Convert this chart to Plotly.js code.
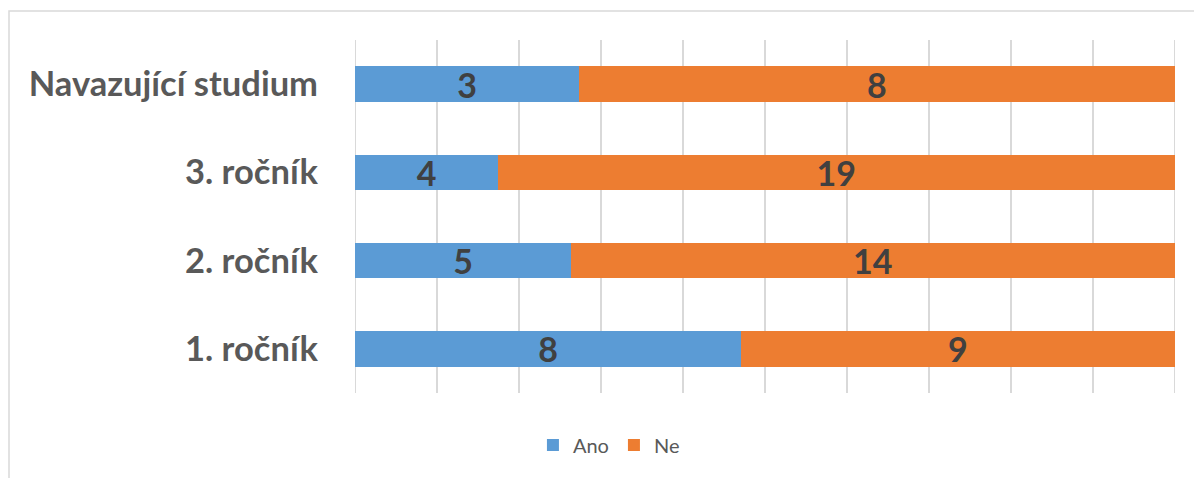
<!DOCTYPE html>
<html>
<head>
<meta charset="utf-8">
<script src="https://cdn.plot.ly/plotly-3.0.1.min.js"></script>
<style>html,body{margin:0;padding:0;background:#fff;}#chart{width:1194px;height:478px;}</style>
</head>
<body>
<div id="chart"></div>
<script>
const categories = ["1. ročník", "2. ročník", "3. ročník", "Navazující studium"];
const ano = [8, 5, 4, 3];
const ne = [9, 14, 19, 8];
const seriesNames = ["Ano", "Ne"];
const colors = ["#5B9BD5", "#ED7D31"];

const W = 1194, H = 478;
const L = 352, R = 16, T = 40, B = 85;
const pw = W - L - R, ph = H - T - B;

const labelFont = {family: "Lato, 'Open Sans', sans-serif", size: 34, color: "#404040", weight: 700};

const traces = [ano, ne].map((vals, i) => ({
  type: "bar",
  orientation: "h",
  name: seriesNames[i],
  y: categories,
  x: vals,
  text: vals.map(String),
  textposition: "inside",
  insidetextanchor: "middle",
  textangle: 0,
  constraintext: "none",
  textfont: labelFont,
  marker: {color: colors[i], line: {width: 0}},
  hoverinfo: "none"
}));

const layout = {
  width: W, height: H,
  margin: {l: L, r: R, t: T, b: B},
  paper_bgcolor: "#fff",
  plot_bgcolor: "#fff",
  barmode: "stack",
  barnorm: "percent",
  bargap: 0.6,
  xaxis: {
    range: [-0.4, 100.4], tick0: 0, dtick: 10, showticklabels: false,
    showgrid: true, gridcolor: "#d9d9d9", gridwidth: 1.5,
    zeroline: false, showline: false, ticks: "", fixedrange: true
  },
  yaxis: {
    showgrid: false, zeroline: false, showline: false, ticks: "",
    ticklabelstandoff: 33,
    tickfont: {family: "Lato, 'Open Sans', sans-serif", size: 34.5, color: "#595959", weight: 700},
    fixedrange: true
  },
  showlegend: true,
  legend: {
    orientation: "h", xref: "container", yref: "container",
    x: 0.51, xanchor: "center", y: 1 - 445/H, yanchor: "middle",
    font: {family: "Lato, 'Open Sans', sans-serif", size: 20, color: "#595959"},
    itemwidth: 30, traceorder: "normal"
  },
  shapes: [{
    type: "rect", xref: "paper", yref: "paper",
    x0: (9 - L)/pw, x1: (1200 - L)/pw,
    y0: (H - B - 490)/ph, y1: (H - B - 11)/ph,
    line: {color: "#d9d9d9", width: 1.5}, fillcolor: "rgba(0,0,0,0)", layer: "below"
  }]
};

Plotly.newPlot("chart", traces, layout, {displayModeBar: false, staticPlot: true});
</script>
</body>
</html>
